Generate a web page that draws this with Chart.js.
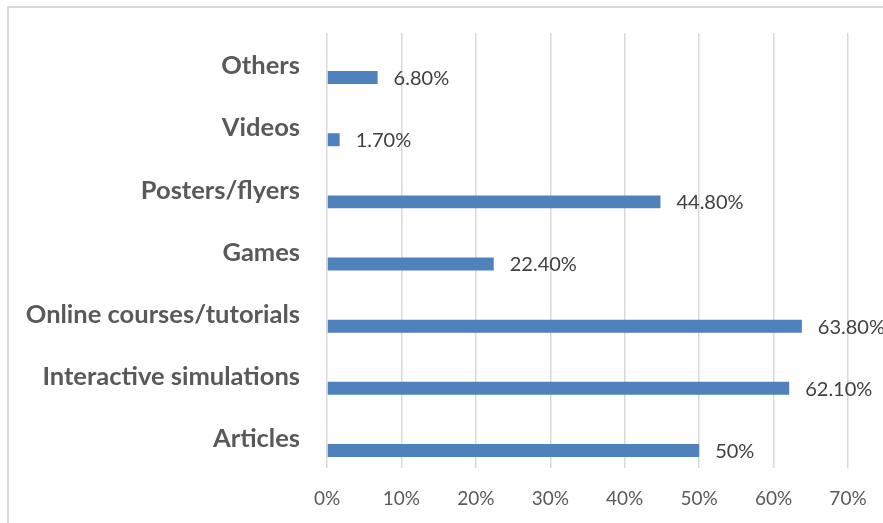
<!DOCTYPE html>
<html>
<head>
<meta charset="utf-8">
<script src="https://cdn.jsdelivr.net/npm/chart.js@4.4.1/dist/chart.umd.min.js"></script>
<style>
  html, body { margin: 0; padding: 0; background: #fff; }
  #wrap { width: 883px; height: 523px; }
</style>
</head>
<body>
<div id="wrap"><canvas id="myChart"></canvas></div>
<script>
const categories = ['Others', 'Videos', 'Posters/flyers', 'Games', 'Online courses/tutorials', 'Interactive simulations', 'Articles'];
const shares = [6.8, 1.7, 44.8, 22.4, 63.8, 62.1, 50];
const tickValues = [0, 10, 20, 30, 40, 50, 60, 70];

const fmtShare = v => Number.isInteger(v) ? v + '%' : v.toFixed(2) + '%';

// light frame around the whole chart
const frame = {
  id: 'frame',
  beforeDraw(chart) {
    const ctx = chart.ctx;
    ctx.save();
    ctx.strokeStyle = '#d9d9d9';
    ctx.lineWidth = 2;
    ctx.strokeRect(8, 7, 1000, 1000);
    ctx.restore();
  }
};

// value text to the right of each bar
const valueLabels = {
  id: 'valueLabels',
  afterDatasetsDraw(chart) {
    const ctx = chart.ctx;
    const meta = chart.getDatasetMeta(1);
    ctx.save();
    ctx.font = '20px Lato';
    ctx.fillStyle = '#404040';
    ctx.textAlign = 'left';
    ctx.textBaseline = 'middle';
    meta.data.forEach((bar, i) => {
      ctx.fillText(fmtShare(shares[i]), bar.x + 16, bar.y + 1);
    });
    ctx.restore();
  }
};

new Chart(document.getElementById('myChart'), {
  type: 'bar',
  data: {
    labels: categories,
    datasets: [
      {
        // empty first series, keeps the bars in the lower half of each row
        label: '',
        data: [],
        backgroundColor: 'rgba(0,0,0,0)'
      },
      {
        label: 'Share',
        data: shares,
        backgroundColor: '#4f81bd'
      }
    ]
  },
  options: {
    indexAxis: 'y',
    responsive: true,
    maintainAspectRatio: false,
    animation: false,
    categoryPercentage: 0.87,
    barPercentage: 0.48,
    layout: { padding: { top: 33, right: 35, left: 0, bottom: 0 } },
    plugins: {
      legend: { display: false },
      tooltip: { enabled: false }
    },
    scales: {
      x: {
        min: 0,
        max: 70,
        afterFit(scale) {
          scale.height = 55;
          scale.paddingLeft = 0;
          scale.paddingRight = 0;
        },
        afterBuildTicks(scale) { scale.ticks = tickValues.map(v => ({ value: v })); },
        grid: { color: '#d9d9d9', lineWidth: 1.5, drawTicks: false },
        border: { display: false },
        ticks: {
          padding: 19,
          color: '#595959',
          font: { family: 'Lato', size: 19 },
          callback: v => v + '%'
        }
      },
      y: {
        afterFit(scale) {
          scale.width = 327;
          scale.paddingTop = 0;
          scale.paddingBottom = 0;
        },
        grid: { display: false, drawTicks: false },
        border: { display: false },
        ticks: {
          padding: 27,
          labelOffset: 2,
          color: '#595959',
          font: { family: 'Lato', size: 25.5, weight: 'bold' }
        }
      }
    }
  },
  plugins: [frame, valueLabels]
});
</script>
</body>
</html>
